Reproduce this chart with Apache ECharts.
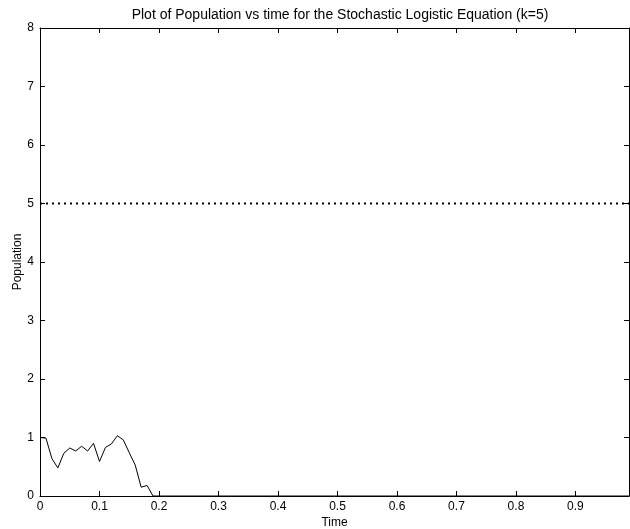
<!DOCTYPE html>
<html>
<head>
<meta charset="utf-8">
<script src="https://cdn.jsdelivr.net/npm/echarts@6/dist/echarts.min.js"></script>
<style>
  html, body { margin: 0; padding: 0; background: #fff; }
  #chart { width: 630px; height: 529px; }
</style>
</head>
<body>
<div id="chart"></div>
<script>
// Simulated population of the stochastic logistic equation
const timeValues = [0, 0.01, 0.02, 0.03, 0.04, 0.05, 0.06, 0.07, 0.08, 0.09,
                    0.10, 0.11, 0.12, 0.13, 0.14, 0.15, 0.16, 0.17, 0.18, 0.19, 0.99];
const populationValues = [1.00, 0.99, 0.64, 0.48, 0.73, 0.82, 0.77, 0.85, 0.77, 0.90,
                          0.59, 0.83, 0.89, 1.03, 0.96, 0.74, 0.53, 0.15, 0.18, 0.00, 0.00];
// Carrying capacity k
const carryingCapacity = 5;
const timeRange = [0, 0.99];
const populationRange = [0, 8];

const FONT = '"Liberation Sans", Arial, Helvetica, sans-serif';
const populationSeries = timeValues.map((t, i) => [t, populationValues[i]]);
const capacitySeries = timeRange.map(t => [t, carryingCapacity]);

const axisCommon = {
  axisLine: { show: true, onZero: false, lineStyle: { color: '#000', width: 1 } },
  axisTick: { show: true, inside: true, length: 5, lineStyle: { color: '#000', width: 1 } },
  splitLine: { show: false }
};

const chart = echarts.init(document.getElementById('chart'), null, { renderer: 'canvas' });
chart.setOption({
  backgroundColor: '#fff',
  animation: false,
  title: {
    text: 'Plot of Population vs time for the Stochastic Logistic Equation (k=5)',
    left: 335, textAlign: 'center', top: 3,
    textStyle: { fontFamily: FONT, fontSize: 14, fontWeight: 'normal', color: '#000' }
  },
  grid: { left: 40, right: 1, top: 28, bottom: 33, containLabel: false, outerBoundsMode: 'none' },
  xAxis: [
    Object.assign({}, axisCommon, {
      type: 'value', position: 'bottom', min: timeRange[0], max: timeRange[1], interval: 0.1,
      name: 'Time', nameLocation: 'middle', nameGap: 21, nameMoveOverlap: false,
      nameTextStyle: { fontFamily: FONT, fontSize: 12, color: '#000' },
      axisLabel: { showMaxLabel: false, margin: 5, fontFamily: FONT, fontSize: 12, color: '#000',
        formatter: v => (Math.round(v * 10) / 10).toString() }
    }),
    Object.assign({}, axisCommon, {
      type: 'value', position: 'top', min: timeRange[0], max: timeRange[1], interval: 0.1,
      axisLabel: { show: false }
    })
  ],
  yAxis: [
    Object.assign({}, axisCommon, {
      type: 'value', position: 'left', min: populationRange[0], max: populationRange[1], interval: 1,
      name: 'Population', nameLocation: 'middle', nameGap: 16, nameRotate: 90, nameMoveOverlap: false,
      nameTextStyle: { fontFamily: FONT, fontSize: 12, color: '#000' },
      axisLabel: { margin: 6, fontFamily: FONT, fontSize: 12, color: '#000' }
    }),
    Object.assign({}, axisCommon, {
      type: 'value', position: 'right', min: populationRange[0], max: populationRange[1], interval: 1,
      axisLabel: { show: false }
    })
  ],
  series: [
    {
      name: 'Carrying capacity', type: 'line', data: capacitySeries,
      symbol: 'none', silent: true,
      lineStyle: { color: '#000', width: 2, type: [2, 4] }
    },
    {
      name: 'Population', type: 'line', data: populationSeries,
      symbol: 'none', silent: true,
      lineStyle: { color: '#000', width: 1 }
    }
  ]
});
</script>
</body>
</html>
